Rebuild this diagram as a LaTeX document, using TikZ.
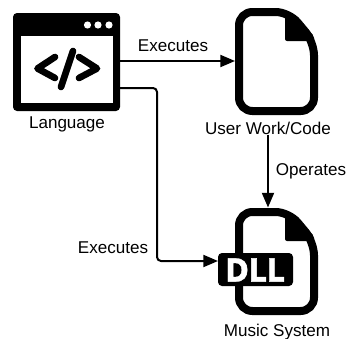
\documentclass[tikz,border=0pt]{standalone}
\usepackage{fontspec}
\setmainfont{Liberation Sans}
\newfontfamily\dllfont{DejaVu Sans Bold}[FakeStretch=0.88,FakeBold=1.2]
\usetikzlibrary{arrows.meta}
\tikzset{
	icon/.style={inner sep=0pt, outer sep=0pt, minimum width=#1*0.75pt, minimum height=80.25pt},
	txt/.style={inner sep=0pt, font=\fontsize{12.8}{15}\selectfont},
	link/.style={black, line width=1.5pt, -{Triangle[length=11pt,width=9pt]}}
}
% one sheet with a folded corner, #1 = its top left corner
\newcommand{\sheet}[1]{
	\begin{scope}[shift={#1}]
		\draw [black, line width=6pt, rounded corners=10pt] (4,4) -- (54,4) -- (79,34) -- (79,103) -- (4,103) -- cycle;
		\fill [black, rounded corners=1.5pt] (50,4) -- (50,33) -- (79,33) -- (79,28) -- (56,4) -- cycle;
	\end{scope}
}
\begin{document}
\begin{tikzpicture}[x=0.75pt, y=-0.75pt]
	\useasboundingbox (0,0) rectangle (347,339);
	% language window
	\fill [black, rounded corners=3pt] (13,13) rectangle (120,111);
	\fill [white] (21,36) rectangle (113,103);
	\foreach \x in {87.5,98,109}
		\fill [white] (\x,25) circle (3.6);
	\draw [black, line width=5pt, line cap=round, line join=round] (55,57) -- (37.5,68.5) -- (55,78);
	\draw [black, line width=5pt, line cap=round, line join=round] (79,57) -- (97,68.5) -- (79,78);
	\draw [black, line width=5pt, line cap=round] (73,51) -- (61,87);
	\node [icon=107] (language) at (66.5,61) {};
	\node [txt] (languagelabel) at (67,124) {Language};
	\coordinate (languageout) at (120,88);
	% user code
	\sheet{(235,8)}
	\node [icon=83] (usercode) at (276.5,61) {};
	\node [txt] (usercodelabel) at (268,128) {User Work/Code};
	% music system
	\sheet{(235,208)}
	\node [icon=83] (music) at (276.5,261) {};
	\node [txt] (musiclabel) at (277,332) {Music System};
	\fill [black, rounded corners=3pt] (218,253) rectangle (293,286);
	\node [inner sep=0pt, text=white, font=\dllfont\fontsize{24}{24}\selectfont] (dll) at (255,270) {DLL};
	\coordinate (dllin) at (218,261);
	% connectors
	\draw [link] (language.east) -- (usercode.west);
	\draw [link, rounded corners=3pt] (languageout) -| (157,175) |- (dllin);
	\draw [link] (usercodelabel.south) -- (usercodelabel.south |- music.north);
	\node [txt] (executesa) at (173,46) {Executes};
	\node [txt] (executesb) at (113,248) {Executes};
	\node [txt] (operates) at (311,171) {Operates};
\end{tikzpicture}
\end{document}
